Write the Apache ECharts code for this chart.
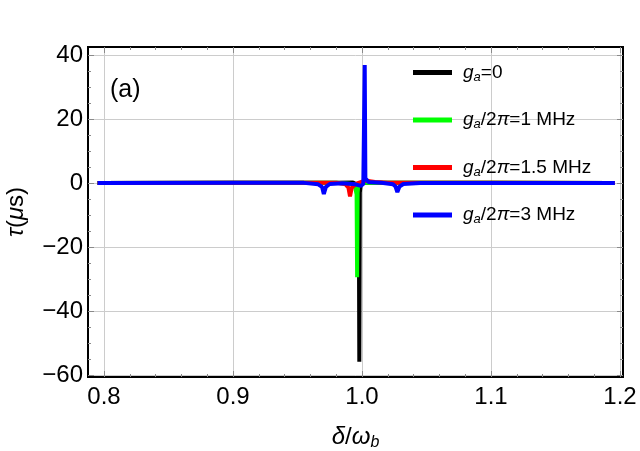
<!DOCTYPE html>
<html>
<head>
<meta charset="utf-8">
<script src="https://cdn.jsdelivr.net/npm/echarts@6/dist/echarts.min.js"></script>
<style>
  html, body { margin: 0; padding: 0; background: #fff; }
  #chart { width: 640px; height: 451px; }
</style>
</head>
<body>
<div id="chart"></div>
<script>
  // tick values
  var xMajor = [0.8, 0.9, 1.0, 1.1, 1.2]
  var xMinor = [0.82, 0.84, 0.86, 0.88, 0.92, 0.94, 0.96, 0.98, 1.02, 1.04, 1.06, 1.08, 1.12, 1.14, 1.16, 1.18]
  var yMajor = [-60, -40, -20, 0, 20, 40]
  var yMinor = [-55, -50, -45, -35, -30, -25, -15, -10, -5, 5, 10, 15, 25, 30, 35]

  // series names (rich text for legend)
  var seriesNames = ['ga0', 'ga1', 'ga15', 'ga3']
  var legendLabels = [
    '{i|g}{s|a}{t|=0}',
    '{i|g}{s|a}{t|/2}{i|π}{t|=1 MHz}',
    '{i|g}{s|a}{t|/2}{i|π}{t|=1.5 MHz}',
    '{i|g}{s|a}{t|/2}{i|π}{t|=3 MHz}'
  ]
  var seriesColors = ['#000000', '#00ff00', '#ff0000', '#0000ff']

  // g_a = 0
  var blackX = [0.795, 0.9, 0.98, 0.993, 0.996, 0.9975, 0.9979, 0.9983, 0.999, 1.0, 1.01, 1.1, 1.196]
  var blackY = [0, 0.05, 0.1, 0.2, -0.5, -3, -55.8, -3, -0.5, 0.2, 0.1, 0.05, 0]
  // g_a/2pi = 1 MHz
  var greenX = [0.795, 0.9, 0.98, 0.992, 0.9945, 0.9958, 0.9962, 0.9966, 0.997, 0.998, 1.0, 1.01, 1.1, 1.196]
  var greenY = [0, 0.05, 0.1, -0.3, -1, -3.5, -29.4, -3, -1, -0.3, 0.2, 0.1, 0.05, 0]
  // g_a/2pi = 1.5 MHz
  var redX = [0.795, 0.9, 0.98, 0.987, 0.9895, 0.9907, 0.992, 0.995, 0.999, 1.003, 1.006, 1.01, 1.02, 1.1, 1.196]
  var redY = [0, 0.05, 0.1, -0.3, -1.5, -4.2, -1.5, -0.3, 0.3, 0.8, 0.6, 0.3, 0.1, 0.05, 0]
  // g_a/2pi = 3 MHz
  var blueX = [0.795, 0.9, 0.955, 0.966, 0.969, 0.9704, 0.972, 0.975, 0.985, 0.995, 0.999, 1.001, 1.0021, 1.0023, 1.0026, 1.005, 1.015, 1.024, 1.026, 1.0274, 1.029, 1.032, 1.045, 1.1, 1.196]
  var blueY = [0, 0.05, 0.05, -0.4, -1.2, -3.4, -1.2, -0.3, -0.1, -0.4, -0.9, -0.3, 36.9, 36.9, 1.5, 0.3, 0.1, -0.4, -1.1, -2.8, -1.1, -0.3, 0, 0, 0]

  var seriesX = [blackX, greenX, redX, blueX]
  var seriesY = [blackY, greenY, redY, blueY]

  var xMin = 0.7876, xMax = 1.2023
  var yMin = -60.6, yMax = 42.5

  var chart = echarts.init(document.getElementById('chart'))
  var font = 'Liberation Sans, Arial, sans-serif'
  var tickGray = '#8a8a8a'

  function frameX (pos, values, len, extra) {
    return Object.assign({
      type: 'value', position: pos, min: xMin, max: xMax,
      axisLine: { show: true, onZero: false, lineStyle: { color: '#000', width: 2 } },
      axisTick: { show: true, inside: true, length: len, customValues: values, lineStyle: { color: tickGray, width: 1 } },
      axisLabel: { show: false },
      splitLine: { show: false }
    }, extra || {})
  }
  function frameY (pos, values, len, extra) {
    return Object.assign({
      type: 'value', position: pos, min: yMin, max: yMax,
      axisLine: { show: true, onZero: false, lineStyle: { color: '#000', width: 2 } },
      axisTick: { show: true, inside: true, length: len, customValues: values, lineStyle: { color: tickGray, width: 1 } },
      axisLabel: { show: false },
      splitLine: { show: false }
    }, extra || {})
  }

  var italicRich = {
    i: { fontFamily: font, fontStyle: 'italic', fontSize: 24, color: '#000' },
    s: { fontFamily: font, fontStyle: 'italic', fontSize: 16, color: '#000', padding: [11, 0, 0, 0] },
    t: { fontFamily: font, fontSize: 24, color: '#000' }
  }

  var options = {
    animation: false,
    backgroundColor: '#fff',
    grid: { left: 88, right: 17, top: 47, bottom: 74, outerBoundsMode: 'none' },
    graphic: [{
      type: 'text', left: 110, top: 78,
      style: { text: '(a)', font: '25px ' + font, fill: '#000' }
    }],
    legend: {
      orient: 'vertical', left: 408, top: 58, itemGap: 27,
      icon: 'rect', itemWidth: 39, itemHeight: 5,
      data: seriesNames,
      formatter: function (name) {
        return legendLabels[seriesNames.indexOf(name)]
      },
      textStyle: {
        padding: [0, 0, 0, 6],
        rich: {
          i: { fontFamily: font, fontStyle: 'italic', fontSize: 19, color: '#000' },
          s: { fontFamily: font, fontStyle: 'italic', fontSize: 13, color: '#000', padding: [9, 0, 0, 0] },
          t: { fontFamily: font, fontSize: 19, color: '#000' }
        }
      }
    },
    xAxis: [
      frameX('bottom', xMajor, 6, {
        axisLabel: {
          show: true, customValues: xMajor, margin: 8,
          fontFamily: font, fontSize: 24, color: '#000',
          formatter: function (v) { return v.toFixed(1) }
        },
        splitLine: { show: true, lineStyle: { color: '#cccccc', width: 1 } },
        name: '{i|δ}{t|/}{i|ω}{s|b}', nameLocation: 'middle', nameGap: 47,
        nameTextStyle: { rich: italicRich }
      }),
      frameX('bottom', xMinor, 3),
      frameX('top', xMajor, 6),
      frameX('top', xMinor, 3)
    ],
    yAxis: [
      frameY('left', yMajor, 6, {
        axisLabel: {
          show: true, customValues: yMajor, margin: 5,
          fontFamily: font, fontSize: 24, color: '#000',
          formatter: function (v) { return v < 0 ? '\u2212' + Math.abs(v) : String(v) }
        },
        splitLine: { show: true, lineStyle: { color: '#cccccc', width: 1 } },
        name: '{i|τ}{t|(}{i|μ}{t|s)}', nameLocation: 'middle', nameGap: 60, nameRotate: 90,
        nameTextStyle: { rich: italicRich }
      }),
      frameY('left', yMinor, 3),
      frameY('right', yMajor, 6),
      frameY('right', yMinor, 3)
    ],
    series: seriesNames.map(function (name, k) {
      return {
        name: name,
        type: 'line',
        xAxisIndex: 0,
        yAxisIndex: 0,
        showSymbol: false,
        symbol: 'none',
        color: seriesColors[k],
        lineStyle: { color: seriesColors[k], width: 4 },
        data: seriesX[k].map(function (x, j) { return [x, seriesY[k][j]] }),
        z: 2 + k
      }
    })
  }

  chart.setOption(options)
</script>
</body>
</html>
